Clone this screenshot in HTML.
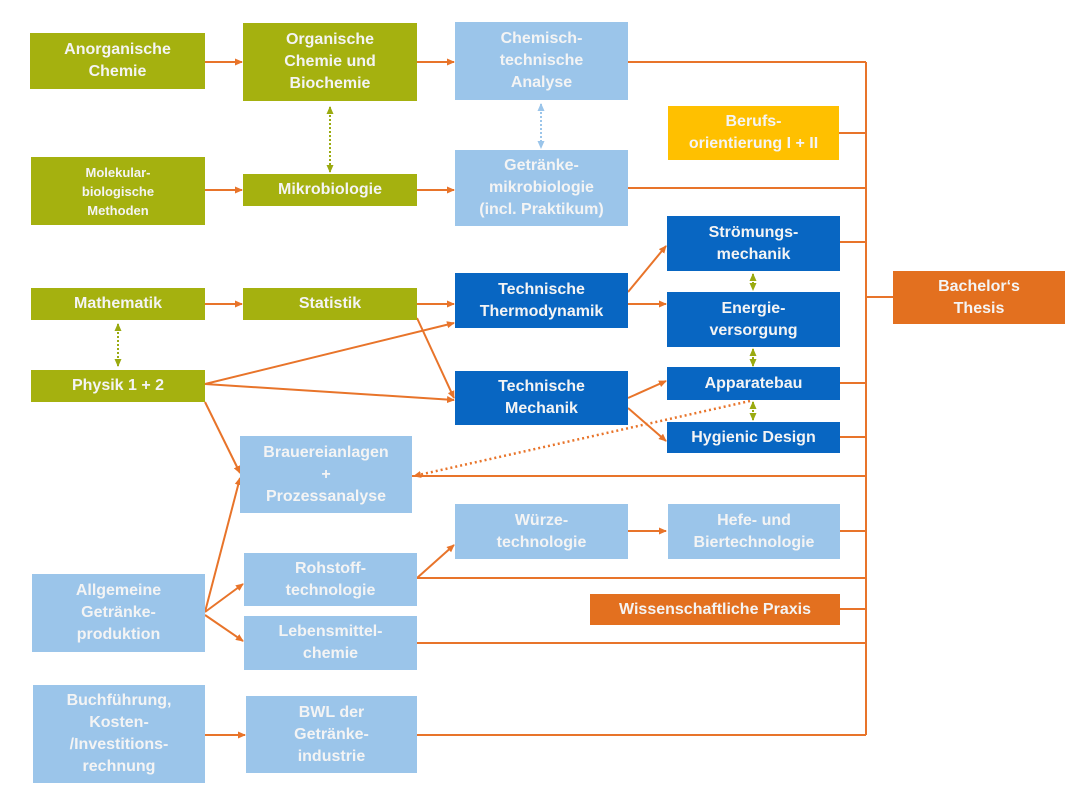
<!DOCTYPE html>
<html><head><meta charset="utf-8"><style>
body{margin:0;width:1080px;height:805px;background:#fff;position:relative;overflow:hidden;font-family:"Liberation Sans",Arial,sans-serif;}
.b{position:absolute;display:flex;align-items:center;justify-content:center;text-align:center;color:#f4f4f4;font-weight:bold;font-size:16px;line-height:22px;box-sizing:border-box;}
.g{background:#a5b10f}.l{background:#9bc5ea}.d{background:#0866c2}.o{background:#e3701f}.y{background:#ffc000}
svg{position:absolute;left:0;top:0}
</style></head><body>
<svg width="1080" height="805">
<defs>
<marker id="a" markerWidth="8" markerHeight="8" refX="7" refY="4" orient="auto" markerUnits="userSpaceOnUse"><path d="M0,0.5L8,4L0,7.5z" fill="#e8742a"/></marker>
<marker id="ga" markerWidth="8" markerHeight="8" refX="7" refY="4" orient="auto-start-reverse" markerUnits="userSpaceOnUse"><path d="M0,0.5L8,4L0,7.5z" fill="#9aaa10"/></marker>
<marker id="la" markerWidth="8" markerHeight="8" refX="7" refY="4" orient="auto-start-reverse" markerUnits="userSpaceOnUse"><path d="M0,0.5L8,4L0,7.5z" fill="#9bc5ea"/></marker>
</defs>
<g stroke="#e8742a" stroke-width="2" fill="none">
<path d="M866,62V735M866,297H893"/>
<path d="M628,62H866M839,133H866M628,188H866M840,242H866M840,383H866M840,437H866M412,476H866M840,531H866M417,578H866M840,609H866M417,643H866M417,735H866"/>
</g>
<g stroke="#e8742a" stroke-width="2" fill="none" marker-end="url(#a)">
<path d="M205,62H242"/><path d="M417,62H454"/><path d="M205,190H242"/><path d="M417,190H454"/>
<path d="M205,304H242"/><path d="M417,304H454"/>
<path d="M205,384L454,323"/><path d="M205,384L454,400"/><path d="M417,318L454,398"/>
<path d="M205,402L240,473"/><path d="M205,612L240,478"/><path d="M205,612L243,584"/><path d="M205,615L243,641"/>
<path d="M417,578L454,545"/><path d="M628,531H666"/><path d="M205,735H245"/>
<path d="M628,292L666,246"/><path d="M628,304H666"/><path d="M628,398L666,381"/><path d="M628,408L666,441"/>
</g>
<path d="M750,401L414,476" stroke="#e8742a" stroke-width="2.5" stroke-dasharray="2,3" fill="none" marker-end="url(#a)"/>
<g stroke="#9aaa10" stroke-width="2" stroke-dasharray="2,2" fill="none" marker-start="url(#ga)" marker-end="url(#ga)">
<path d="M330,107V172"/><path d="M118,324V366"/><path d="M753,274V290"/><path d="M753,349V366"/><path d="M753,402V420"/>
</g>
<path d="M541,104V148" stroke="#9bc5ea" stroke-width="2" stroke-dasharray="2,2" fill="none" marker-start="url(#la)" marker-end="url(#la)"/>
</svg>
<div class="b g" style="left:30px;top:33px;width:175px;height:56px">Anorganische<br>Chemie</div>
<div class="b g" style="left:243px;top:23px;width:174px;height:78px">Organische<br>Chemie und<br>Biochemie</div>
<div class="b l" style="left:455px;top:22px;width:173px;height:78px">Chemisch-<br>technische<br>Analyse</div>
<div class="b g" style="left:31px;top:157px;width:174px;height:68px;font-size:13px;line-height:19px">Molekular-<br>biologische<br>Methoden</div>
<div class="b g" style="left:243px;top:174px;width:174px;height:32px">Mikrobiologie</div>
<div class="b l" style="left:455px;top:150px;width:173px;height:76px">Getränke-<br>mikrobiologie<br>(incl. Praktikum)</div>
<div class="b y" style="left:668px;top:106px;width:171px;height:54px">Berufs-<br>orientierung I + II</div>
<div class="b d" style="left:667px;top:216px;width:173px;height:55px">Strömungs-<br>mechanik</div>
<div class="b o" style="left:893px;top:271px;width:172px;height:53px">Bachelor‘s<br>Thesis</div>
<div class="b g" style="left:31px;top:288px;width:174px;height:32px">Mathematik</div>
<div class="b g" style="left:243px;top:288px;width:174px;height:32px">Statistik</div>
<div class="b d" style="left:455px;top:273px;width:173px;height:55px">Technische<br>Thermodynamik</div>
<div class="b d" style="left:667px;top:292px;width:173px;height:55px">Energie-<br>versorgung</div>
<div class="b g" style="left:31px;top:370px;width:174px;height:32px">Physik 1 + 2</div>
<div class="b d" style="left:455px;top:371px;width:173px;height:54px">Technische<br>Mechanik</div>
<div class="b d" style="left:667px;top:367px;width:173px;height:33px">Apparatebau</div>
<div class="b d" style="left:667px;top:422px;width:173px;height:31px">Hygienic Design</div>
<div class="b l" style="left:240px;top:436px;width:172px;height:77px">Brauereianlagen<br>+<br>Prozessanalyse</div>
<div class="b l" style="left:455px;top:504px;width:173px;height:55px">Würze-<br>technologie</div>
<div class="b l" style="left:668px;top:504px;width:172px;height:55px">Hefe- und<br>Biertechnologie</div>
<div class="b l" style="left:244px;top:553px;width:173px;height:53px">Rohstoff-<br>technologie</div>
<div class="b o" style="left:590px;top:594px;width:250px;height:31px">Wissenschaftliche Praxis</div>
<div class="b l" style="left:32px;top:574px;width:173px;height:78px">Allgemeine<br>Getränke-<br>produktion</div>
<div class="b l" style="left:244px;top:616px;width:173px;height:54px">Lebensmittel-<br>chemie</div>
<div class="b l" style="left:33px;top:685px;width:172px;height:98px">Buchführung,<br>Kosten-<br>/Investitions-<br>rechnung</div>
<div class="b l" style="left:246px;top:696px;width:171px;height:77px">BWL der<br>Getränke-<br>industrie</div>
</body></html>
